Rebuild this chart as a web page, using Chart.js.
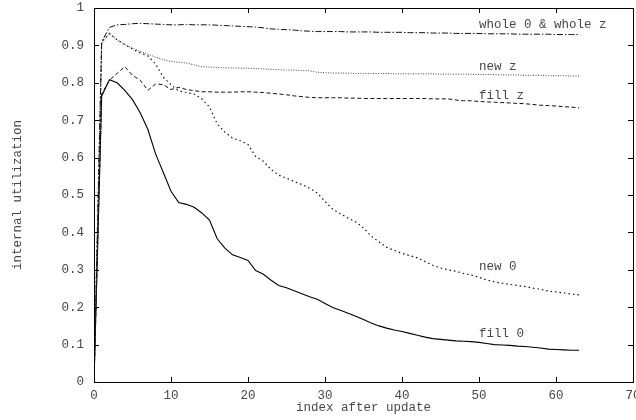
<!DOCTYPE html>
<html>
<head>
<meta charset="utf-8">
<script src="https://cdn.jsdelivr.net/npm/chart.js@4/dist/chart.umd.min.js"></script>
<style>
  html, body { margin: 0; padding: 0; background: #fff; }
  #wrap { width: 636px; height: 420px; }
</style>
</head>
<body>
<div id="wrap"><canvas id="util"></canvas></div>
<script>
// index after update (x), 0..63
const steps = [0,1,2,3,4,5,6,7,8,9,10,11,12,13,14,15,16,17,18,19,20,21,22,23,24,25,26,27,28,29,30,31,
  32,33,34,35,36,37,38,39,40,41,42,43,44,45,46,47,48,49,50,51,52,53,54,55,56,57,58,59,60,61,62,63];

const wholeBoth = [0,0.91,0.948,0.955,0.956,0.958,0.959,0.958,0.957,0.956,0.955,0.955,0.956,0.955,0.955,0.955,
  0.954,0.953,0.952,0.951,0.95,0.949,0.947,0.944,0.943,0.942,0.941,0.939,0.938,0.937,0.937,0.937,
  0.937,0.936,0.936,0.936,0.936,0.935,0.935,0.935,0.935,0.934,0.934,0.934,0.933,0.933,0.933,0.932,
  0.932,0.932,0.932,0.931,0.931,0.931,0.931,0.930,0.930,0.930,0.930,0.930,0.929,0.929,0.929,0.929];

const newZ = [0,0.905,0.932,0.915,0.902,0.893,0.884,0.877,0.868,0.862,0.857,0.855,0.853,0.848,0.843,0.842,
  0.841,0.840,0.840,0.839,0.839,0.838,0.837,0.836,0.835,0.834,0.834,0.833,0.832,0.828,0.827,0.826,
  0.826,0.826,0.825,0.825,0.825,0.825,0.825,0.824,0.824,0.824,0.824,0.824,0.824,0.823,0.823,0.823,
  0.823,0.823,0.822,0.822,0.822,0.821,0.821,0.821,0.820,0.820,0.820,0.819,0.819,0.819,0.818,0.818];

const fillZ = [0,0.77,0.807,0.825,0.843,0.82,0.807,0.78,0.797,0.795,0.782,0.788,0.782,0.779,0.776,0.776,
  0.775,0.775,0.775,0.776,0.776,0.775,0.774,0.772,0.77,0.768,0.765,0.763,0.761,0.76,0.76,0.76,
  0.76,0.759,0.759,0.758,0.758,0.758,0.758,0.758,0.758,0.758,0.758,0.758,0.757,0.757,0.757,0.754,
  0.752,0.752,0.75,0.749,0.748,0.747,0.746,0.745,0.744,0.742,0.740,0.739,0.738,0.736,0.735,0.733];

const new0 = [0,0.91,0.932,0.915,0.902,0.89,0.88,0.872,0.85,0.815,0.795,0.778,0.774,0.77,0.757,0.735,
  0.69,0.668,0.652,0.645,0.635,0.603,0.59,0.568,0.553,0.545,0.536,0.528,0.518,0.505,0.483,0.462,
  0.45,0.438,0.428,0.412,0.39,0.375,0.36,0.352,0.344,0.338,0.332,0.322,0.312,0.305,0.3,0.296,
  0.29,0.286,0.28,0.273,0.268,0.264,0.261,0.258,0.255,0.251,0.248,0.243,0.241,0.238,0.235,0.233];

const fill0 = [0,0.765,0.808,0.80,0.78,0.755,0.72,0.675,0.61,0.56,0.51,0.48,0.475,0.467,0.452,0.433,
  0.383,0.358,0.34,0.333,0.325,0.298,0.288,0.272,0.258,0.252,0.244,0.236,0.228,0.221,0.21,0.199,
  0.192,0.184,0.176,0.167,0.158,0.15,0.144,0.139,0.135,0.13,0.125,0.12,0.116,0.114,0.112,0.11,
  0.109,0.108,0.106,0.103,0.1,0.099,0.098,0.096,0.095,0.093,0.091,0.088,0.087,0.086,0.085,0.085];

const seriesNames = ['whole 0 & whole z', 'new z', 'fill z', 'new 0', 'fill 0'];
// where each curve's name sits, in data units
const labelX = [50, 50, 50, 50, 50];
const labelY = [0.955, 0.843, 0.765, 0.307, 0.13];

const MONO = '"Liberation Mono", "DejaVu Sans Mono", monospace';
const TEXT = '#484848';
const TICK = 5;

// inward tick marks on all four sides, frame and curve names
const frameTicks = {
  id: 'frameTicks',
  afterDatasetsDraw(chart) {
    const { ctx, chartArea: a, scales: { x, y } } = chart;
    ctx.save();
    ctx.strokeStyle = '#000';
    ctx.lineWidth = 1;
    ctx.beginPath();
    x.ticks.forEach(t => {
      const px = Math.round(x.getPixelForValue(t.value)) + 0.5;
      ctx.moveTo(px, a.bottom); ctx.lineTo(px, a.bottom - TICK);
      ctx.moveTo(px, a.top); ctx.lineTo(px, a.top + TICK);
    });
    y.ticks.forEach(t => {
      const py = Math.round(y.getPixelForValue(t.value)) + 0.5;
      ctx.moveTo(a.left, py); ctx.lineTo(a.left + TICK, py);
      ctx.moveTo(a.right, py); ctx.lineTo(a.right - TICK, py);
    });
    ctx.stroke();
    ctx.strokeRect(Math.round(a.left) + 0.5, Math.round(a.top) + 0.5,
      Math.round(a.right - a.left), Math.round(a.bottom - a.top));

    ctx.fillStyle = TEXT;
    ctx.font = '12.5px ' + MONO;
    ctx.textBaseline = 'middle';
    ctx.textAlign = 'left';
    seriesNames.forEach((name, i) => {
      ctx.fillText(name, x.getPixelForValue(labelX[i]), y.getPixelForValue(labelY[i]));
    });
    ctx.restore();
  }
};

function line(data, dash, width, color) {
  return {
    data: data,
    borderColor: color,
    borderWidth: width,
    borderDash: dash,
    pointRadius: 0,
    tension: 0,
    fill: false
  };
}

new Chart(document.getElementById('util').getContext('2d'), {
  type: 'line',
  data: {
    labels: steps,
    datasets: [
      line(wholeBoth, [6, 2, 1.5, 2], 1, '#111'),
      line(newZ, [1, 1.5], 1, '#444'),
      line(fillZ, [4, 2.5], 1, '#111'),
      line(new0, [1.5, 3], 1.2, '#111'),
      line(fill0, [], 1.1, '#000')
    ]
  },
  options: {
    responsive: true,
    maintainAspectRatio: false,
    animation: false,
    events: [],
    layout: { padding: { top: 8, right: 3, left: 0, bottom: 0 } },
    plugins: { legend: { display: false }, tooltip: { enabled: false } },
    scales: {
      x: {
        type: 'linear',
        min: 0, max: 70,
        grid: { display: false, drawTicks: false },
        border: { display: false },
        ticks: {
          stepSize: 10, autoSkip: false, maxRotation: 0, padding: 6,
          color: TEXT, font: { family: MONO, size: 12.5 }
        },
        title: {
          display: true, text: 'index after update', color: TEXT,
          font: { family: MONO, size: 12.5 }, padding: { top: 0, bottom: 5 }
        },
        afterFit(s) { s.height = 38; s.paddingLeft = 0; s.paddingRight = 0; }
      },
      y: {
        min: 0, max: 1,
        grid: { display: false, drawTicks: false },
        border: { display: false },
        ticks: {
          stepSize: 0.1, padding: 10, color: TEXT,
          font: { family: MONO, size: 12.5 },
          callback: v => String(+v.toFixed(1))
        },
        title: {
          display: true, text: 'internal utilization', color: TEXT,
          font: { family: MONO, size: 12.5 }, padding: { top: 10, bottom: 0 }
        },
        afterFit(s) { s.width = 94; s.paddingTop = 0; s.paddingBottom = 0; }
      }
    }
  },
  plugins: [frameTicks]
});
</script>
</body>
</html>
